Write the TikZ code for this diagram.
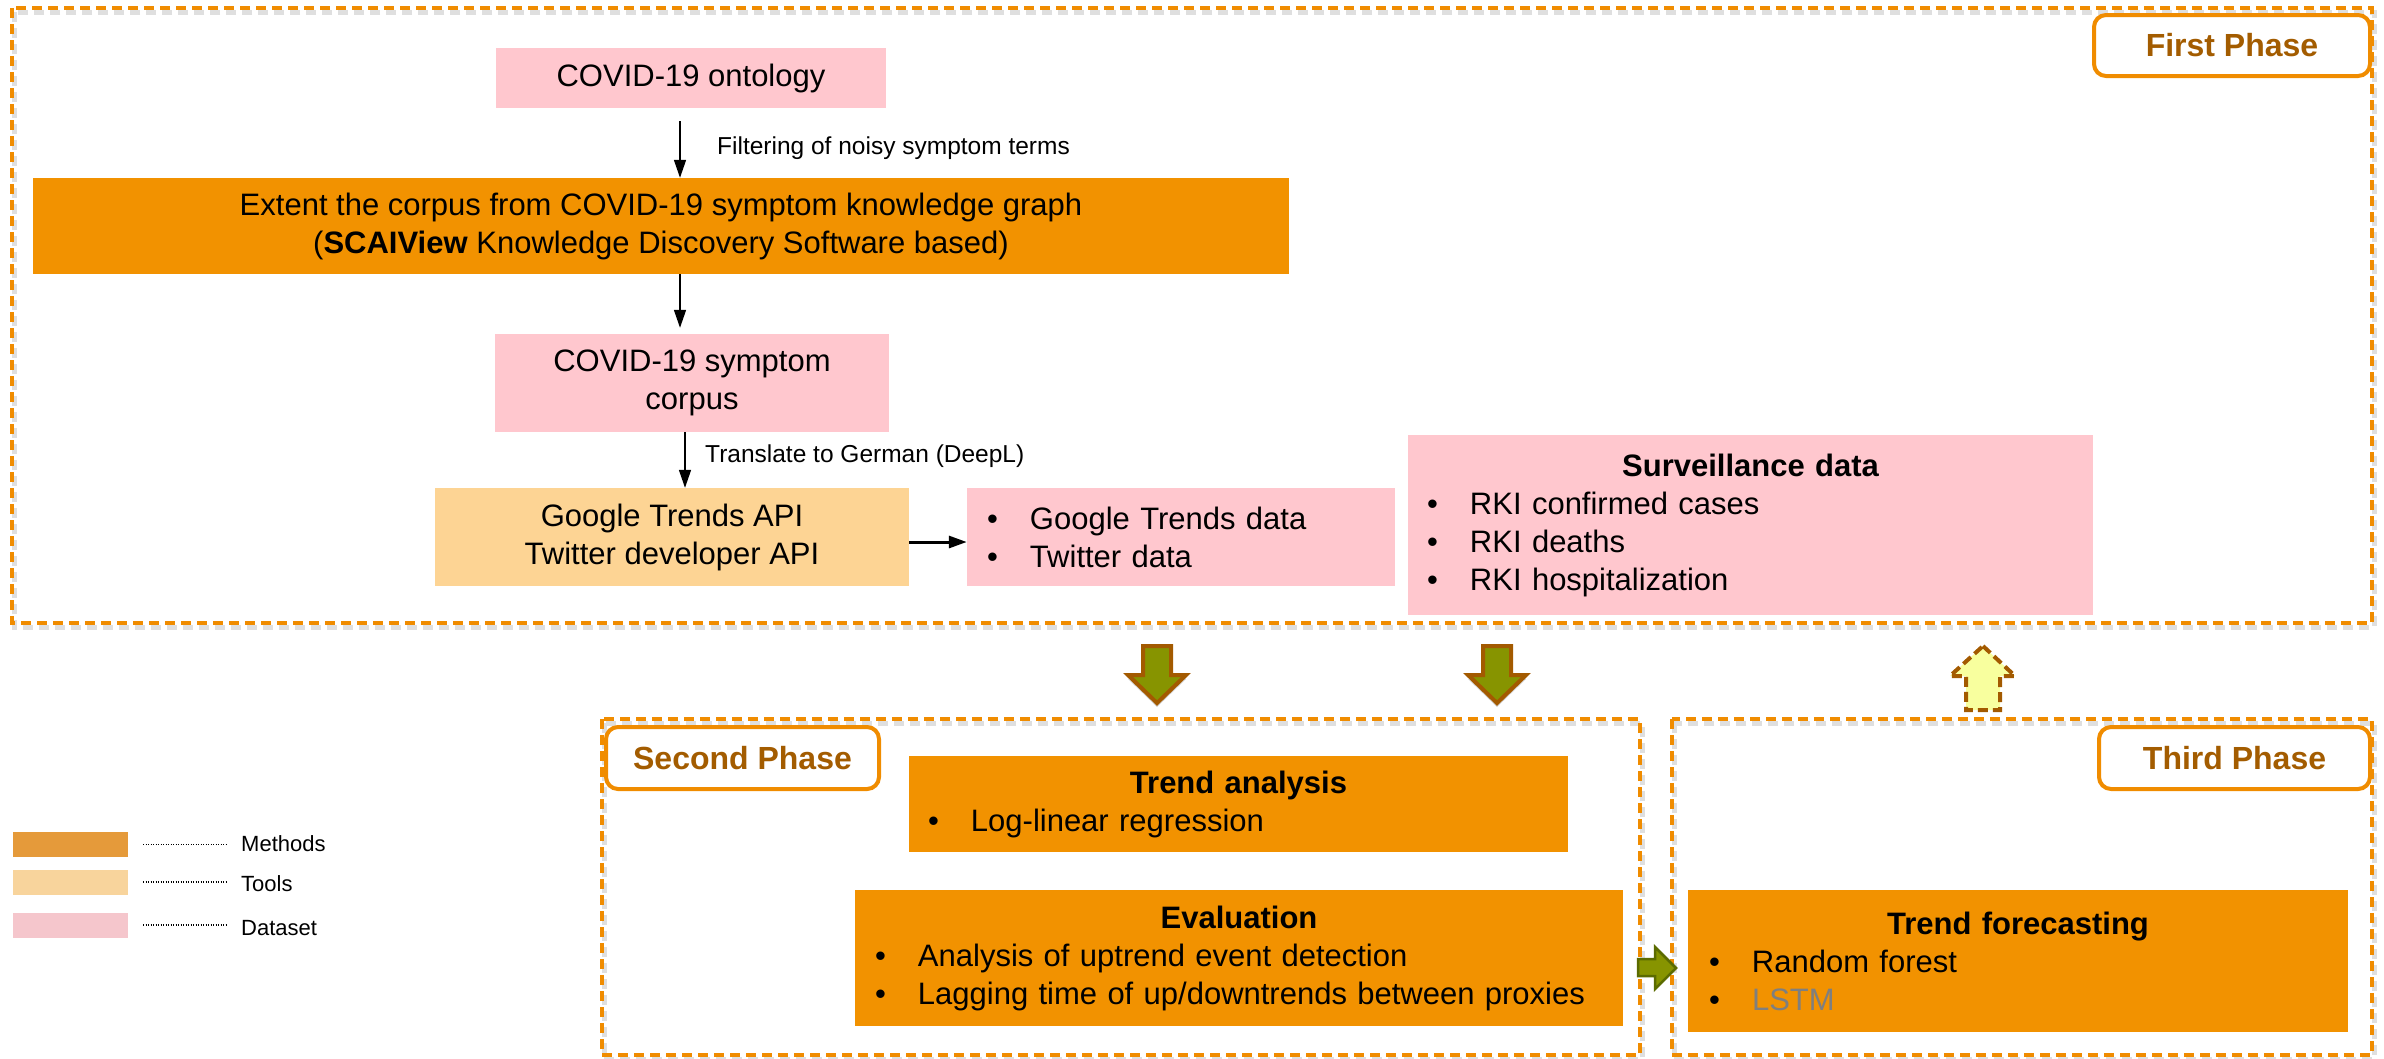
\documentclass[tikz,border=0pt]{standalone}
\usepackage{fontspec}
\setmainfont{Liberation Sans}
\usetikzlibrary{arrows.meta,calc}
\definecolor{pinkds}{HTML}{FFC7CE}
\definecolor{methodor}{HTML}{F29200}
\definecolor{toolor}{HTML}{FDD494}
\definecolor{dashor}{HTML}{F08C00}
\definecolor{phasebrown}{HTML}{A35C00}
\definecolor{arrgreen}{HTML}{879400}
\definecolor{arrbrown}{HTML}{A35A00}
\definecolor{arrdark}{HTML}{5B6B00}
\definecolor{arryellow}{HTML}{F8FF9E}
\definecolor{legm}{HTML}{E59A3A}
\definecolor{legt}{HTML}{F8D49C}
\definecolor{legd}{HTML}{F5C6CC}
\definecolor{lstmgray}{HTML}{7F7F7F}
\newcommand\fmain{\fontsize{31}{38}\selectfont}
\newcommand\flbl{\fontsize{24.5}{30}\selectfont}
\newcommand\fleg{\fontsize{22}{26}\selectfont}
\newcommand\fphase{\fontsize{32}{38}\selectfont\bfseries}
\newcommand\bitem[1]{\makebox[43pt][l]{\textbullet}#1}
\begin{document}
\begin{tikzpicture}[x=1pt,y=-1pt,
  box/.style={rectangle, inner sep=0pt, align=center, font=\fmain},
  dataset/.style={box, fill=pinkds},
  method/.style={box, fill=methodor},
  tool/.style={box, fill=toolor},
  phaseframe/.style={draw=dashor, dash pattern=on 10pt off 6pt, line width=4pt},
  phaseshadow/.style={draw=gray!25, dash pattern=on 10pt off 6pt, line width=5pt},
  phaselabel/.style={draw=dashor, line width=4pt, rounded corners=12pt, fill=white, text=phasebrown, font=\fphase, inner sep=0pt},
  flow/.style={-{Triangle[length=18pt,width=12pt]}, line width=1.6pt},
  lbl/.style={font=\flbl, anchor=west, inner sep=0pt},
  blockdown/.style={fill=arrgreen, draw=arrbrown, line width=4pt, line join=miter},
  blockshadow/.style={fill=black, opacity=0.18},
  legsw/.style={rectangle, inner sep=0pt, minimum width=115pt, minimum height=25pt},
  legtxt/.style={font=\fleg, anchor=west, inner sep=0pt},
  legdot/.style={line width=1.2pt, dash pattern=on 1.2pt off 1.3pt}
]
\useasboundingbox (0,0) rectangle (2384,1058);

% phase frames
\draw[phaseshadow] (14,12) rectangle (2374,627);
\draw[phaseframe] (12,8) rectangle (2372,623);
\draw[phaseshadow] (604,723) rectangle (1642,1059);
\draw[phaseframe] (602,719) rectangle (1640,1055);
\draw[phaseshadow] (1674,723) rectangle (2374,1059);
\draw[phaseframe] (1672,719) rectangle (2372,1055);

% phase labels
\node[phaselabel, minimum width=276pt, minimum height=61pt] (firstlbl) at (2232,45.5) {First Phase};
\node[phaselabel, minimum width=273pt, minimum height=62pt] (secondlbl) at (742.5,758) {Second Phase};
\node[phaselabel, minimum width=271pt, minimum height=62pt] (thirdlbl) at (2234.5,758) {Third Phase};

% first phase nodes
\node[dataset, minimum width=390pt, minimum height=60pt] (onto) at (691,78) {COVID-19 ontology};
\node[method, minimum width=1256pt, minimum height=96pt] (extent) at (661,226)
  {Extent the corpus from COVID-19 symptom knowledge graph\\(\textbf{SCAIView} Knowledge Discovery Software based)};
\node[dataset, minimum width=394pt, minimum height=98pt] (corpus) at (692,383) {COVID-19 symptom\\corpus};
\node[tool, minimum width=474pt, minimum height=98pt] (api) at (672,537) {Google Trends API\\Twitter developer API};
\node[dataset, align=left, text width=388pt, inner xsep=20pt, minimum height=98pt] (gtdata) at (1181,537)
  {\bitem{Google Trends data}\\\bitem{Twitter data}};
\node[dataset, align=left, text width=647pt, inner xsep=19pt, minimum height=180pt] (surv) at (1750.5,525)
  {\makebox[647pt][c]{\bfseries Surveillance data}\\\bitem{RKI confirmed cases}\\\bitem{RKI deaths}\\\bitem{RKI hospitalization}};

% flow arrows
\coordinate (a1) at ($(onto.south)+(-11,13)$);
\draw[flow] (a1) -- (a1 |- extent.north);
\node[lbl] (lblfilter) at (717,148) {Filtering of noisy symptom terms};
\coordinate (a2) at ($(corpus.north)+(-12,-6)$);
\draw[flow] (a2 |- extent.south) -- (a2);
\coordinate (a3) at ($(corpus.south)+(-7,0)$);
\draw[flow] (a3) -- (a3 |- api.north);
\node[lbl] (lbltrans) at (705,456) {Translate to German (DeepL)};
\draw[flow, line width=3pt] ($(api.east)+(0,5)$) -- ($(gtdata.west)+(0,5)$);

% second phase
\node[method, align=left, text width=621pt, inner xsep=19pt, minimum height=96pt] (trend) at (1238.5,804)
  {\makebox[621pt][c]{\bfseries Trend analysis}\\\bitem{Log-linear regression}};
\node[method, align=left, text width=728pt, inner xsep=20pt, minimum height=136pt] (evalb) at (1239,958)
  {\makebox[728pt][c]{\bfseries Evaluation}\\\bitem{Analysis of uptrend event detection}\\\bitem{Lagging time of up/downtrends\ between proxies}};

% third phase
\node[method, align=left, text width=618pt, inner xsep=21pt, minimum height=142pt] (forecast) at (2018,961)
  {\makebox[618pt][c]{\bfseries Trend forecasting}\\\bitem{Random forest}\\\bitem{\textcolor{lstmgray}{LSTM}}};

% block arrows down (first -> second phase)
\foreach \cx/\nm in {1157/dA, 1497/dB}{
  \fill[blockshadow] ($(\cx,646)+(-14,4)$) -- ++(28,0) -- ++(0,29) -- ++(15,0) -- ($(\cx,703)+(0,4)$) -- ($(\cx,675)+(-29,4)$) -- ++(15,0) -- cycle;
  \draw[blockdown] ($(\cx,646)+(-14,0)$) -- ++(28,0) -- ++(0,29) -- ++(15,0) -- (\cx,703) -- ($(\cx,675)+(-29,0)$) -- ++(15,0) -- cycle;
}

% block arrow up (third -> first phase)
\draw[fill=arryellow, draw=arrbrown, line width=4pt, dash pattern=on 10pt off 5pt, line join=miter]
  (1983,646) -- (2015,676) -- (2000,676) -- (2000,710) -- (1966,710) -- (1966,676) -- (1950,676) -- cycle;

% block arrow right (evaluation -> forecasting)
\draw[fill=arrgreen, draw=arrdark, line width=2.5pt, line join=miter]
  (1638,959) -- (1655,959) -- (1655,947) -- (1676,968) -- (1655,989) -- (1655,976) -- (1638,976) -- cycle;

% legend
\node[legsw, fill=legm] (swm) at (70.5,844.5) {};
\node[legsw, fill=legt] (swt) at (70.5,882) {};
\node[legsw, fill=legd] (swd) at (70.5,925) {};
\node[legtxt] (txm) at (241,844) {Methods};
\node[legtxt] (txt) at (241,884) {Tools};
\node[legtxt] (txd) at (241,928) {Dataset};
\draw[legdot] ($(swm.east)+(15,0)$) -- ($(swm.east -| txm.west)+(-15,0)$);
\draw[legdot] ($(swt.east)+(15,0)$) -- ($(swt.east -| txt.west)+(-15,0)$);
\draw[legdot] ($(swd.east)+(15,0)$) -- ($(swd.east -| txd.west)+(-15,0)$);
\end{tikzpicture}
\end{document}
